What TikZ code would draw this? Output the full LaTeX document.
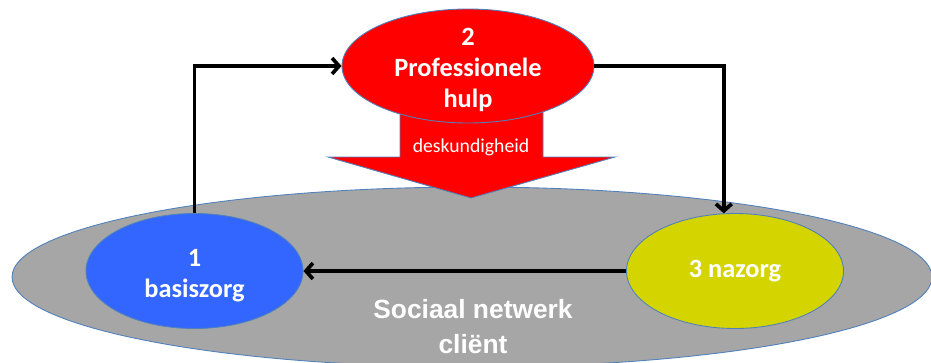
\documentclass[tikz,border=0pt]{standalone}
\usepackage{fontspec}
\setmainfont{Carlito}
\newfontfamily\arialfont{Liberation Sans}
\usetikzlibrary{shapes.geometric,arrows.meta}
\definecolor{rimblue}{RGB}{79,129,189}
\definecolor{zorgblue}{RGB}{51,102,255}
\definecolor{zorgyellow}{RGB}{212,212,0}
\definecolor{netgray}{RGB}{166,166,166}

\begin{document}
\begin{tikzpicture}[
bubble/.style={ellipse, draw=rimblue, line width=0.5pt, inner sep=0pt,
  minimum width=4.34cm, minimum height=2.3cm},
bubtext/.style={text=white, align=center, font=\bfseries\fontsize{15}{17.5}\selectfont},
flow/.style={-{Straight Barb[length=4pt,width=9pt]}, line width=2.1pt, black}
]
\useasboundingbox (0,0) rectangle (18.62,7.24);

\begin{scope}
\clip (0,0) rectangle (18.62,7.24);
\node[bubble, fill=netgray, minimum width=18.4cm, minimum height=3.6cm] (netwerk) at (9.44,1.7) {};
\end{scope}

% brede pijl onder de professionele hulp
\draw[rimblue, line width=0.5pt, fill=red]
  (8.0,5.24) -- (8.0,4.1) -- (6.56,4.1) -- (9.42,3.28)
  -- (12.3,4.1) -- (10.86,4.1) -- (10.86,5.24);
\node[text=white, font=\fontsize{11.2}{13}\selectfont] (desk) at (9.42,4.3) {deskundigheid};

\node[bubble, fill=zorgblue, label={[bubtext, yshift=-0.1cm]center:1\\basiszorg}] (basis) at (3.89,1.82) {};
\node[bubble, fill=zorgyellow, label={[bubtext]center:3 nazorg}] (nazorg) at (14.7,1.82) {};
\node[bubble, fill=red, minimum width=5.04cm, minimum height=2.28cm,
  label={[bubtext, yshift=-0.08cm]center:2\\Professionele\\hulp}] (hulp) at (9.36,5.92) {};

\node[text=white, align=center, font=\arialfont\bfseries\fontsize{15}{20}\selectfont] (client) at (9.46,0.7) {Sociaal netwerk\\cliënt};

\draw[flow] (basis.north) |- (hulp.west);
\draw[flow] (hulp.east) -| (nazorg.101);
\draw[flow] (nazorg.west) -- (basis.east);
%\draw[flow] (basis) -- (nazorg);

\end{tikzpicture}
\end{document}
